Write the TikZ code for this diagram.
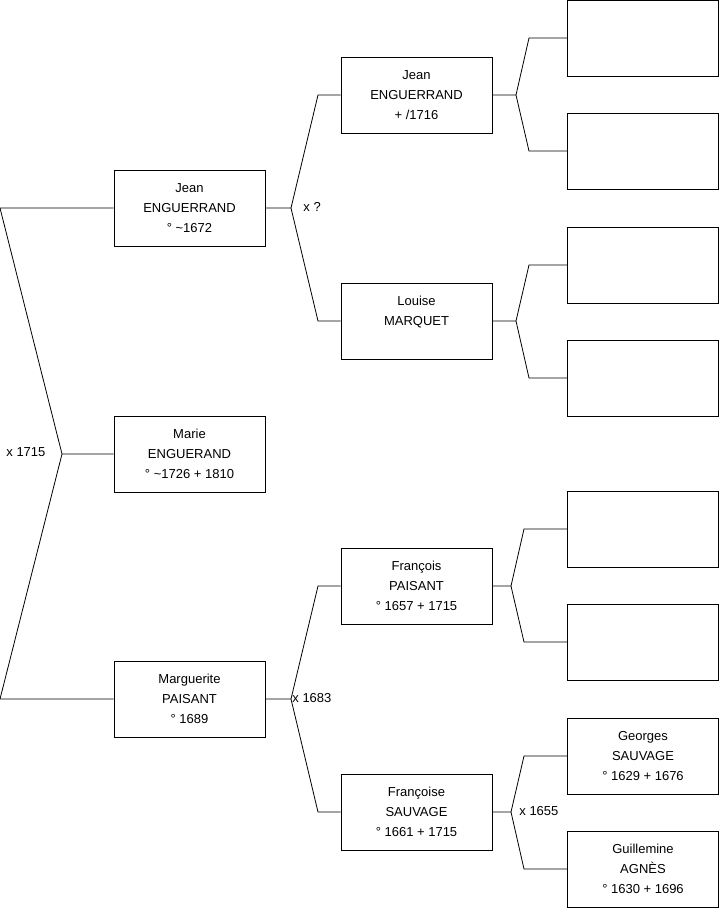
\documentclass[tikz,border=0pt]{standalone}
\usepackage{fontspec}
\setmainfont{Liberation Sans}
\begin{document}
\begin{tikzpicture}[x=1pt,y=-1pt,line width=0.8pt,
  every node/.style={draw,fill=white,align=center,inner sep=0pt,minimum width=151pt,minimum height=76pt,font=\fontsize{13}{20}\selectfont},
  lbl/.style={draw=none,fill=none,minimum width=0pt,minimum height=0pt,anchor=west}]
\useasboundingbox (0,0) rectangle (719,908);
\node (jean) at (189.5,208) {Jean\\ENGUERRAND\\° \textasciitilde1672};
\node (marie) at (189.5,454) {Marie\\ENGUERAND\\° \textasciitilde1726 + 1810};
\node (marg) at (189.5,699) {Marguerite\\PAISANT\\° 1689};
\node (jean2) at (416.5,95) {Jean\\ENGUERRAND\\+ /1716};
\node (louise) at (416.5,321) {Louise\\MARQUET\\\mbox{}};
\node (franc) at (416.5,586) {François\\PAISANT\\° 1657 + 1715};
\node (france) at (416.5,812) {Françoise\\SAUVAGE\\° 1661 + 1715};
\node (e1) at (643,38) {};
\node (e2) at (643,151) {};
\node (e3) at (643,265) {};
\node (e4) at (643,378) {};
\node (e5) at (643,529) {};
\node (e6) at (643,642) {};
\node (georges) at (643,756) {Georges\\SAUVAGE\\° 1629 + 1676};
\node (guill) at (643,869) {Guillemine\\AGNÈS\\° 1630 + 1696};
\coordinate (m0) at (62,454);
\coordinate (m1) at (0,208);
\coordinate (m2) at (0,699);
\coordinate (a0) at (291,208);
\coordinate (a1) at (318,95);
\coordinate (a2) at (318,321);
\coordinate (b0) at (291,699);
\coordinate (b1) at (318,586);
\coordinate (b2) at (318,812);
\coordinate (c0) at (516,95);
\coordinate (c1) at (529,38);
\coordinate (c2) at (529,151);
\coordinate (d0) at (516,321);
\coordinate (d1) at (529,265);
\coordinate (d2) at (529,378);
\coordinate (f0) at (511,586);
\coordinate (f1) at (524,529);
\coordinate (f2) at (524,642);
\coordinate (g0) at (511,812);
\coordinate (g1) at (524,756);
\coordinate (g2) at (524,869);
\draw (marie) -- (m0) -- (m1) -- (jean) (m0) -- (m2) -- (marg);
\draw (jean) -- (a0) -- (a1) -- (jean2) (a0) -- (a2) -- (louise);
\draw (marg) -- (b0) -- (b1) -- (franc) (b0) -- (b2) -- (france);
\draw (jean2) -- (c0) -- (c1) -- (e1) (c0) -- (c2) -- (e2);
\draw (louise) -- (d0) -- (d1) -- (e3) (d0) -- (d2) -- (e4);
\draw (franc) -- (f0) -- (f1) -- (e5) (f0) -- (f2) -- (e6);
\draw (france) -- (g0) -- (g1) -- (georges) (g0) -- (g2) -- (guill);
\node[lbl] (x1) at (6,452) {x 1715};
\node[lbl] (x2) at (303,207) {x ?};
\node[lbl] (x3) at (292,698) {x 1683};
\node[lbl] (x4) at (519,811) {x 1655};
\end{tikzpicture}
\end{document}
